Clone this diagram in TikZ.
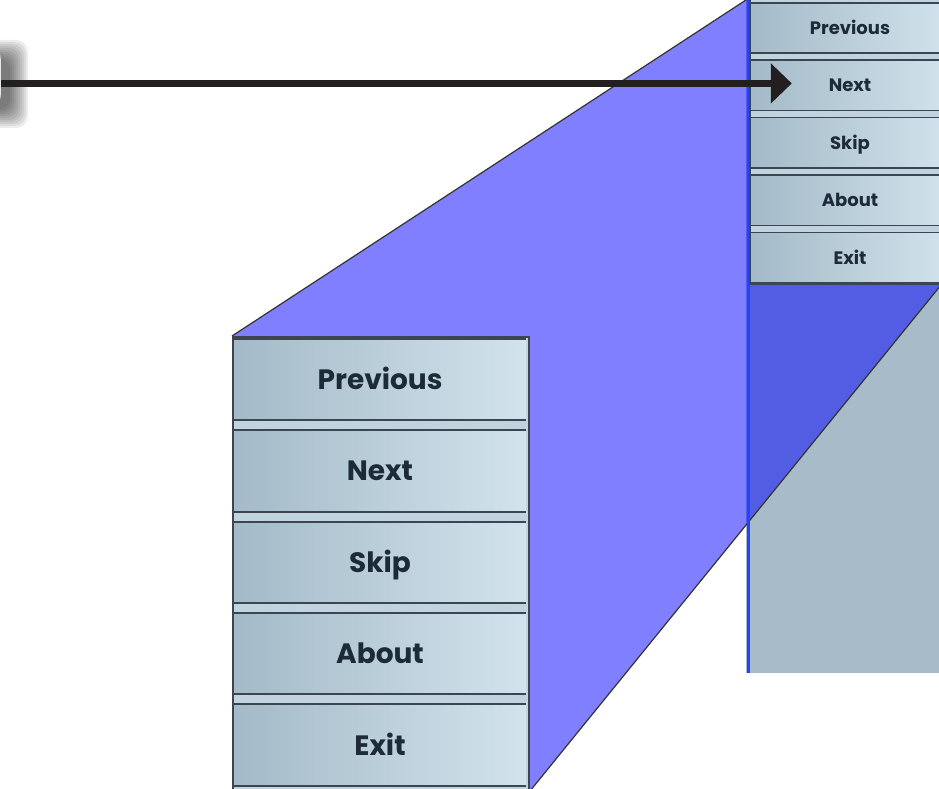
\documentclass[tikz,border=0pt]{standalone}
\usepackage{fontspec}
\setmainfont{Poppins}
\usetikzlibrary{positioning,arrows.meta}

\definecolor{zoomblue}{HTML}{0000FF}
\definecolor{panelgray}{HTML}{A8BBC8}
\definecolor{btndark}{HTML}{A4BAC8}
\definecolor{btnlight}{HTML}{D2E3EC}
\definecolor{btnline}{HTML}{3C4650}
\definecolor{btntext}{HTML}{1C2B36}
\definecolor{arrowink}{HTML}{231F20}
\definecolor{edgeblue}{HTML}{2244FF}

\begin{document}
\begin{tikzpicture}[x=1pt, y=-1pt,
	bigbtn/.style = {left color=btndark, right color=btnlight, inner sep=0pt,
		minimum width=292pt, minimum height=81pt, text=btntext,
		font=\fontsize{28}{30}\selectfont\bfseries, text height=20pt, text depth=0pt},
	smallbtn/.style = {left color=btndark, right color=btnlight, inner sep=0pt,
		minimum width=198pt, minimum height=50pt, text=btntext,
		font=\fontsize{18}{20}\selectfont\bfseries, text height=13pt, text depth=0pt},
	menuframe/.style = {fill=btnlight!60!btndark, draw=btnline, line width=2pt, inner sep=0pt, anchor=north west},
	btnedge/.style = {btnline, line width=2pt},
	zoomedge/.style = {gray!40!black, line width=1.2pt},
	pointer/.style = {arrowink, line width=7pt, -{Triangle[length=21pt, width=39pt]}}]

	\useasboundingbox (0,0) rectangle (939,789);
	\clip (0,0) rectangle (939,789);

	%% Screen on the right
	\node[fill=panelgray, inner sep=0pt, anchor=north west, minimum width=193pt, minimum height=673pt] (panel) at (746,0) {};

	%% Cut-off button on the left
	\foreach \r in {20,18,...,2}
		\fill[black, opacity=0.07, rounded corners=12pt] (-80-\r,60-\r) rectangle (8+\r,108+\r);
	\node[fill=white, draw=gray!50, rounded corners=10pt, minimum width=80pt, minimum height=56pt, anchor=east] (src) at (1,77) {};

	%% Nodes
	\node[menuframe, minimum width=190pt, minimum height=285pt] (smallmenu) at (749,-2) {};
	\node[menuframe, minimum width=296pt, minimum height=453pt] (bigmenu) at (232,336) {};

	%% Zoom wedge
	\fill[zoomblue, fill opacity=0.5] (bigmenu.north west) -- (smallmenu.north west) -- (smallmenu.north east)
		-- (smallmenu.south east) -- (bigmenu.south east) -- (bigmenu.south west) -- cycle;
	\draw[zoomedge] (bigmenu.north west) -- (smallmenu.north west);
	\draw[zoomedge] (smallmenu.south east) -- (bigmenu.south east);
	\draw[edgeblue, line width=3pt] ([xshift=2.5pt]panel.north west) -- ([xshift=2.5pt]panel.south west);

	%% Small menu
	\node[menuframe, minimum width=190pt, minimum height=285pt] at (749,-2) {};
	\node[smallbtn] (s1) at (850,28) {Previous};
	\node[smallbtn][below=7pt of s1] (s2) {Next};
	\node[smallbtn][below=7pt of s2] (s3) {Skip};
	\node[smallbtn][below=7pt of s3] (s4) {About};
	\node[smallbtn][below=7pt of s4] (s5) {Exit};

	%% Big menu
	\node[menuframe, minimum width=296pt, minimum height=453pt] at (232,336) {};
	\node[bigbtn] (b1) at (380,379.5) {Previous};
	\node[bigbtn][below=10pt of b1] (b2) {Next};
	\node[bigbtn][below=10pt of b2] (b3) {Skip};
	\node[bigbtn][below=10pt of b3] (b4) {About};
	\node[bigbtn][below=10pt of b4] (b5) {Exit};

	%% Edges
	\foreach \n in {s1,s2,s3,s4,s5} {
		\draw[btnedge, line width=1.5pt] (\n.north west) -- (\n.north east);
		\draw[btnedge, line width=1.5pt] (\n.south west) -- (\n.south east);
	}
	\foreach \n in {b1,b2,b3,b4,b5} {
		\draw[btnedge] (\n.north west) -- (\n.north east);
		\draw[btnedge] (\n.south west) -- (\n.south east);
	}
	\coordinate (tip) at ([xshift=41pt, yshift=2pt]s2.west);
	\draw[pointer] (src.east |- tip) -- (tip);

\end{tikzpicture}
\end{document}
